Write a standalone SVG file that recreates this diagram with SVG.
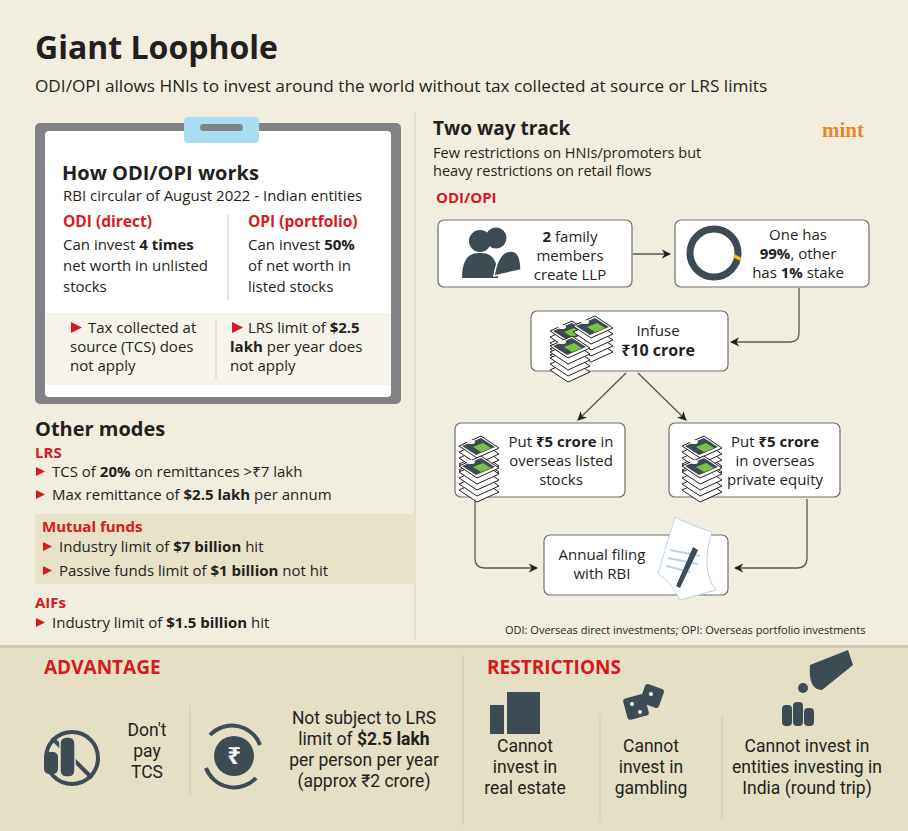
<svg xmlns="http://www.w3.org/2000/svg" width="908" height="831" viewBox="0 0 908 831">
<defs>
<style>
text{font-family:"Open Sans","Noto Sans",sans-serif;fill:#231f20}
.b{font-weight:bold}
.r{fill:#d71920}
.t16{font-size:16px}
.t15{font-size:15px}
.node{fill:#fff;stroke:#6d6e71;stroke-width:1.2}
.con{fill:none;stroke:#58595b;stroke-width:1.3;marker-end:url(#ah)}
.ic{fill:#3d4b55}
.bt{font-size:17.5px;font-family:"Roboto","Noto Sans",sans-serif}
</style>
<marker id="ah" viewBox="0 0 10 10" refX="9" refY="5" markerWidth="7" markerHeight="7" orient="auto"><path d="M0,0 L10,5 L0,10 L3,5Z" fill="#231f20"/></marker>
<g id="bill">
<path d="M0,30 l22,-10 l18,12 l-22,10z" fill="#fff" stroke="#231f20"/>
<path d="M0,24 l22,-10 l18,12 l-22,10z" fill="#fff" stroke="#231f20"/>
<path d="M0,18 l22,-10 l18,12 l-22,10z" fill="#fff" stroke="#231f20"/>
<path d="M0,12 l22,-10 l18,12 l-22,10z" fill="#fff" stroke="#231f20"/>
<path d="M0,6 l22,-10 l18,12 l-22,10z" fill="#fff" stroke="#231f20"/>
<path d="M3,6 l19,-8 l14,9 l-19,8z" fill="#3d4b55"/>
<path d="M14,7 l10,-4 l8,5 l-10,4z" fill="#7cc242"/>
<ellipse cx="12" cy="2" rx="4" ry="2" fill="#fff"/>
</g>
</defs>
<rect width="908" height="831" fill="#f2eedf"/>
<text x="35" y="59" class="b" font-size="32">Giant Loophole</text>
<text x="35" y="92" font-size="17.2">ODI/OPI allows HNIs to invest around the world without tax collected at source or LRS limits</text>
<line x1="415" y1="112" x2="415" y2="640" stroke="#dcd8c6" stroke-width="1.5"/>

<g id="clipboard">
<rect x="35" y="123" width="366" height="281" rx="5" fill="#808285"/>
<rect x="45" y="131" width="346" height="266" rx="4" fill="#fff"/>
<rect x="45" y="313" width="346" height="72" fill="#f5f3ea"/>
<rect x="184" y="117" width="75" height="26" rx="4" fill="#a8ddf2"/>
<rect x="200" y="124" width="43" height="7" rx="3.5" fill="#808285"/>
<line x1="228" y1="215" x2="228" y2="300" stroke="#c8c8c8"/>
<line x1="216" y1="318" x2="216" y2="380" stroke="#d8d6cc"/>
<text x="62" y="180" class="b" font-size="20">How ODI/OPI works</text>
<text x="63" y="201" font-size="15">RBI circular of August 2022 - Indian entities</text>
<text x="63" y="227" class="b r" font-size="15.5">ODI (direct)</text>
<text x="63" y="250" class="t15">Can invest <tspan class="b">4 times</tspan></text>
<text x="63" y="271" class="t15">net worth in unlisted</text>
<text x="63" y="292" class="t15">stocks</text>
<text x="248" y="227" class="b r" font-size="15.5">OPI (portfolio)</text>
<text x="248" y="250" class="t15">Can invest <tspan class="b">50%</tspan></text>
<text x="248" y="271" class="t15">of net worth in</text>
<text x="248" y="292" class="t15">listed stocks</text>
<path d="M71,322 l11,5.5 l-11,5.5z" fill="#d71920"/>
<text x="88" y="333" class="t15">Tax collected at</text>
<text x="70" y="352" class="t15">source (TCS) does</text>
<text x="70" y="371" class="t15">not apply</text>
<path d="M232,322 l11,5.5 l-11,5.5z" fill="#d71920"/>
<text x="248" y="333" class="t15">LRS limit of <tspan class="b">$2.5</tspan></text>
<text x="230" y="352" class="t15"><tspan class="b">lakh</tspan> per year does</text>
<text x="230" y="371" class="t15">not apply</text>
</g>

<g id="othermodes">
<text x="35" y="436" class="b" font-size="20">Other modes</text>
<text x="35" y="458" class="b r" font-size="15">LRS</text>
<path d="M36,467 l9,4.5 l-9,4.5z" fill="#d71920"/>
<text x="52" y="477" class="t15">TCS of <tspan class="b">20%</tspan> on remittances &gt;₹7 lakh</text>
<path d="M36,490 l9,4.5 l-9,4.5z" fill="#d71920"/>
<text x="52" y="500" class="t15">Max remittance of <tspan class="b">$2.5 lakh</tspan> per annum</text>
<rect x="35" y="514" width="380" height="70" fill="#e7e2c8"/>
<text x="42" y="532" class="b r" font-size="15">Mutual funds</text>
<path d="M43,542 l9,4.5 l-9,4.5z" fill="#d71920"/>
<text x="59" y="552" class="t15">Industry limit of <tspan class="b">$7 billion</tspan> hit</text>
<path d="M43,566 l9,4.5 l-9,4.5z" fill="#d71920"/>
<text x="59" y="576" class="t15">Passive funds limit of <tspan class="b">$1 billion</tspan> not hit</text>
<text x="35" y="608" class="b r" font-size="15">AIFs</text>
<path d="M36,618 l9,4.5 l-9,4.5z" fill="#d71920"/>
<text x="52" y="628" class="t15">Industry limit of <tspan class="b">$1.5 billion</tspan> hit</text>
</g>

<text x="433" y="135" class="b" font-size="19">Two way track</text>
<text x="822" y="137" class="b" font-size="21" style="fill:#e8862a;font-family:'Liberation Serif',serif">mint</text>
<text x="433" y="158" font-size="14.5">Few restrictions on HNIs/promoters but</text>
<text x="433" y="176" font-size="14.5">heavy restrictions on retail flows</text>
<text x="436" y="203" class="b r" font-size="15">ODI/OPI</text>

<g id="connectors">
<path class="con" d="M633,254 H670"/>
<path class="con" d="M799,288 V333 Q799,342 790,342 H731"/>
<path class="con" d="M626,373 L578,420"/>
<path class="con" d="M638,373 L686,420"/>
<path class="con" d="M475,499 V558 Q475,568 485,568 H537"/>
<path class="con" d="M807,499 V558 Q807,568 797,568 H735"/>
</g>

<g id="n1">
<rect class="node" x="438" y="220" width="194" height="67" rx="6"/>
<circle cx="480" cy="241" r="11" class="ic"/>
<circle cx="496" cy="238" r="10.5" class="ic"/>
<path d="M462,278 Q462,252 480,253 Q498,252 498,278z" class="ic"/>
<path d="M494,276 Q498,250 512,251 Q521,252 521,270 Z" class="ic" stroke="#fff" stroke-width="1.5"/>
<text x="570" y="242" text-anchor="middle" class="t15"><tspan class="b">2</tspan> family</text>
<text x="570" y="261" text-anchor="middle" class="t15">members</text>
<text x="570" y="280" text-anchor="middle" class="t15">create LLP</text>
</g>
<g id="n2">
<rect class="node" x="675" y="220" width="194" height="67" rx="6"/>
<circle cx="714" cy="253" r="24" fill="none" stroke="#3d4b55" stroke-width="7"/>
<path d="M736.5,259 L738,256" stroke="#f2c41b" stroke-width="7.5" fill="none"/>
<text x="798" y="240" text-anchor="middle" class="t15">One has</text>
<text x="798" y="259" text-anchor="middle" class="t15"><tspan class="b">99%</tspan>, other</text>
<text x="798" y="278" text-anchor="middle" class="t15">has <tspan class="b">1%</tspan> stake</text>
</g>
<g id="n3">
<rect class="node" x="531" y="311" width="197" height="60" rx="6"/>
<use href="#bill" x="550" y="325"/>
<use href="#bill" x="573" y="320"/>
<use href="#bill" x="550" y="340"/>
<text x="658" y="336" text-anchor="middle" class="t15">Infuse</text>
<text x="658" y="356" text-anchor="middle" class="b" font-size="16">₹10 crore</text>
</g>
<g id="n4">
<rect class="node" x="455" y="423" width="170" height="74" rx="6"/>
<use href="#bill" x="459" y="440"/>
<use href="#bill" x="459" y="460"/>
<text x="561" y="447" text-anchor="middle" class="t15">Put <tspan class="b">₹5 crore</tspan> in</text>
<text x="561" y="466" text-anchor="middle" class="t15">overseas listed</text>
<text x="561" y="485" text-anchor="middle" class="t15">stocks</text>
</g>
<g id="n5">
<rect class="node" x="669" y="423" width="171" height="74" rx="6"/>
<use href="#bill" x="682" y="440"/>
<use href="#bill" x="682" y="460"/>
<text x="775" y="447" text-anchor="middle" class="t15">Put <tspan class="b">₹5 crore</tspan></text>
<text x="775" y="466" text-anchor="middle" class="t15">in overseas</text>
<text x="775" y="485" text-anchor="middle" class="t15">private equity</text>
</g>
<g id="n6">
<rect class="node" x="544" y="535" width="184" height="60" rx="6"/>
<path d="M675,517 Q690,525 712,532 Q700,570 716,590 L680,600 Q670,580 658,574 Z" fill="#fff" stroke="#b8d4ea"/>
<g stroke="#b8d4ea" stroke-width="2"><line x1="670" y1="550" x2="700" y2="556"/><line x1="668" y1="558" x2="698" y2="564"/><line x1="666" y1="566" x2="690" y2="572"/></g>
<path d="M693,547 L698,550 L680,588 L676,586 Z" fill="#3d4b55"/>
<text x="602" y="560" text-anchor="middle" class="t15">Annual filing</text>
<text x="602" y="579" text-anchor="middle" class="t15">with RBI</text>
</g>
<text x="505" y="634" font-size="11">ODI: Overseas direct investments; OPI: Overseas portfolio investments</text>

<g id="bottom">
<rect x="0" y="645" width="908" height="186" fill="#e4dfc5"/>
<rect x="0" y="645" width="908" height="3" fill="#d0cbb2"/>
<line x1="463" y1="655" x2="463" y2="825" stroke="#cfcab0" stroke-width="1.5"/>
<line x1="190" y1="705" x2="190" y2="795" stroke="#cfcab0"/>
<line x1="600" y1="715" x2="600" y2="820" stroke="#cfcab0"/>
<line x1="722" y1="715" x2="722" y2="820" stroke="#cfcab0"/>
<text x="44" y="674" class="b r" font-size="19" font-family="Roboto">ADVANTAGE</text>
<text x="487" y="674" class="b r" font-size="19" font-family="Roboto">RESTRICTIONS</text>
<g id="tcsicon">
<circle cx="72" cy="758" r="26" fill="none" stroke="#3d4b55" stroke-width="4"/>
<line x1="52" y1="738" x2="92" y2="778" stroke="#3d4b55" stroke-width="4"/>
<rect x="44" y="752" width="14" height="22" rx="5" class="ic"/>
<rect x="60" y="737" width="15" height="40" rx="6" class="ic" stroke="#e4dfc5" stroke-width="1.5"/>
</g>
<text x="147" y="736" text-anchor="middle" class="bt">Don't</text>
<text x="147" y="757" text-anchor="middle" class="bt">pay</text>
<text x="147" y="778" text-anchor="middle" class="bt">TCS</text>
<g id="rupeeicon">
<path d="M210,735 A30,30 0 0 1 260,745" fill="none" stroke="#3d4b55" stroke-width="4"/>
<path d="M256,778 A30,30 0 0 1 206,768" fill="none" stroke="#3d4b55" stroke-width="4"/>
<circle cx="234" cy="756" r="20" class="ic"/>
<text x="234" y="764" text-anchor="middle" font-size="24" font-weight="bold" style="fill:#fff">₹</text>
</g>
<text x="364" y="724" text-anchor="middle" class="bt">Not subject to LRS</text>
<text x="364" y="745" text-anchor="middle" class="bt">limit of <tspan class="b">$2.5 lakh</tspan></text>
<text x="364" y="766" text-anchor="middle" class="bt">per person per year</text>
<text x="364" y="787" text-anchor="middle" class="bt">(approx ₹2 crore)</text>
<g id="bldg" class="ic">
<rect x="507" y="692" width="33" height="42"/>
<rect x="490" y="705" width="14" height="29"/>
</g>
<text x="525" y="752" text-anchor="middle" class="bt">Cannot</text>
<text x="525" y="773" text-anchor="middle" class="bt">invest in</text>
<text x="525" y="794" text-anchor="middle" class="bt">real estate</text>
<g id="dice">
<rect x="625" y="696" width="22" height="22" rx="3" class="ic" transform="rotate(-15 636 707)"/>
<rect x="642" y="686" width="20" height="20" rx="3" class="ic" transform="rotate(20 652 696)"/>
<circle cx="632" cy="704" r="2" fill="#fff"/><circle cx="640" cy="712" r="2" fill="#fff"/><circle cx="651" cy="694" r="2" fill="#fff"/>
</g>
<text x="651" y="752" text-anchor="middle" class="bt">Cannot</text>
<text x="651" y="773" text-anchor="middle" class="bt">invest in</text>
<text x="651" y="794" text-anchor="middle" class="bt">gambling</text>
<g id="hand" class="ic">
<path d="M810,665 L848,650 L853,665 L822,690 Q808,690 810,665Z"/>
<circle cx="803" cy="688" r="5"/>
<rect x="782" y="705" width="10" height="21" rx="4"/>
<rect x="793" y="702" width="10" height="24" rx="4"/>
<rect x="804" y="708" width="10" height="18" rx="4"/>
</g>
<text x="807" y="752" text-anchor="middle" class="bt">Cannot invest in</text>
<text x="807" y="773" text-anchor="middle" class="bt">entities investing in</text>
<text x="807" y="794" text-anchor="middle" class="bt">India (round trip)</text>
</g>
</svg>
